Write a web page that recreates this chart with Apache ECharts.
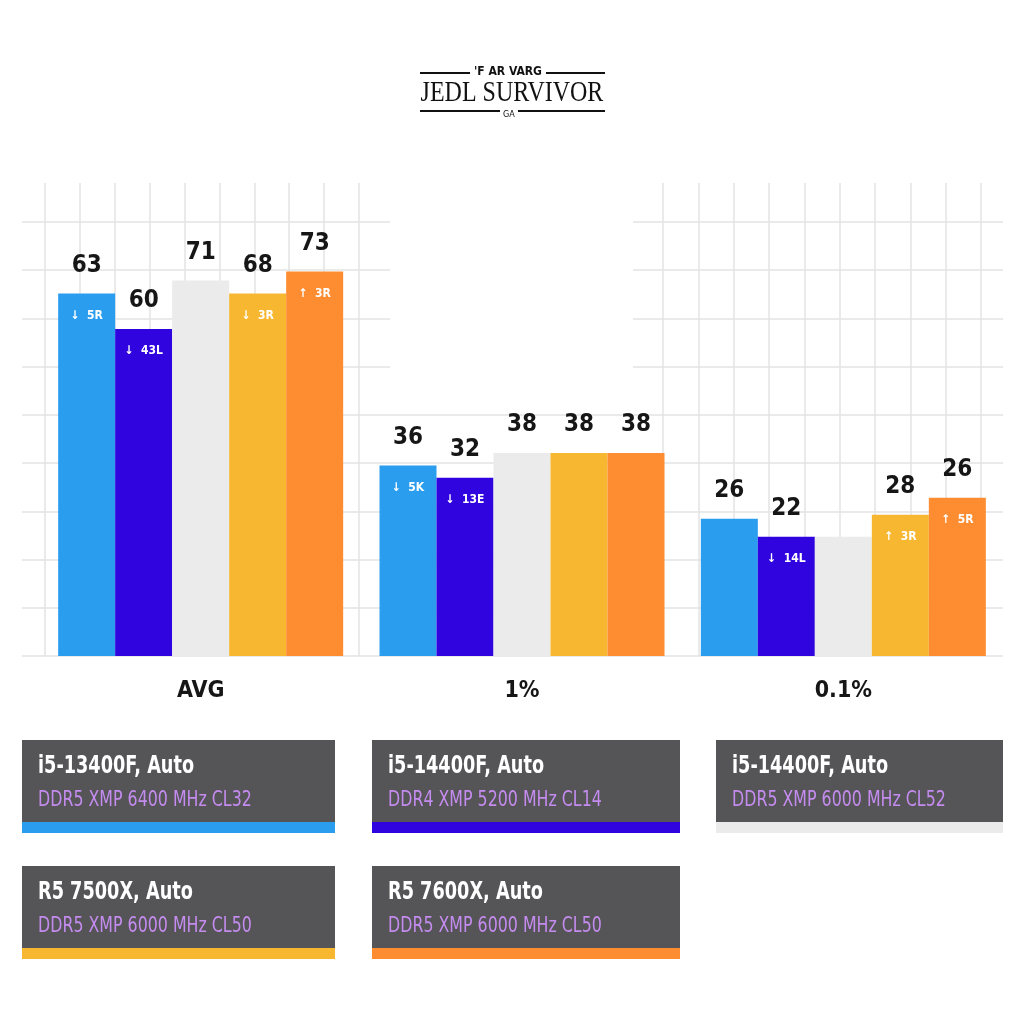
<!DOCTYPE html>
<html>
<head>
<meta charset="utf-8">
<script src="https://cdn.jsdelivr.net/npm/echarts@6/dist/echarts.min.js"></script>
<style>
  html, body { margin: 0; padding: 0; background: #fff; }
  #main { width: 1024px; height: 1024px; }
</style>
</head>
<body>
<div id="main"></div>
<script>
// 分类与数据
let categories = ['AVG', '1%', '0.1%'];

// bar heights
let valI5_13400 = [68.7, 36.1, 26.0];
let valI5_14400d4 = [62.0, 33.8, 22.6];
let valI5_14400d5 = [71.2, 38.5, 22.6];
let valR5_7500 = [68.7, 38.5, 26.8];
let valR5_7600 = [72.9, 38.5, 30.0];

// numbers printed above the bars
let topI5_13400 = ['63', '36', '26'];
let topI5_14400d4 = ['60', '32', '22'];
let topI5_14400d5 = ['71', '38', ''];
let topR5_7500 = ['68', '38', '28'];
let topR5_7600 = ['73', '38', '26'];

// small notes inside the bars
let noteI5_13400 = ['↓  5R', '↓  5K', ''];
let noteI5_14400d4 = ['↓  43L', '↓  13E', '↓  14L'];
let noteI5_14400d5 = ['', '', ''];
let noteR5_7500 = ['↓  3R', '', '↑  3R'];
let noteR5_7600 = ['↑  3R', '', '↑  5R'];

let cpuNames = ['i5-13400F, Auto', 'i5-14400F, Auto', 'i5-14400F, Auto', 'R5 7500X, Auto', 'R5 7600X, Auto'];
let memNames = ['DDR5 XMP 6400 MHz CL32', 'DDR4 XMP 5200 MHz CL14', 'DDR5 XMP 6000 MHz CL52', 'DDR5 XMP 6000 MHz CL50', 'DDR5 XMP 6000 MHz CL50'];
let colors = ['#2b9def', '#3004df', '#ebebeb', '#f7b731', '#fe8c31'];

let values = [valI5_13400, valI5_14400d4, valI5_14400d5, valR5_7500, valR5_7600];
let tops = [topI5_13400, topI5_14400d4, topI5_14400d5, topR5_7500, topR5_7600];
let notes = [noteI5_13400, noteI5_14400d4, noteI5_14400d5, noteR5_7500, noteR5_7600];

let condensed = "'Liberation Sans Narrow', 'DejaVu Sans Condensed', 'Roboto Condensed', 'Noto Sans', sans-serif";
let gridLine = { show: true, lineStyle: { color: '#e3e3e3', width: 1.5 } };

let myChart = echarts.init(document.getElementById('main'));

let series = [];
for (let i = 0; i < 5; i++) {
    // 柱子 + 顶部数字
    series.push({
        type: 'bar',
        name: cpuNames[i],
        xAxisIndex: 3,
        yAxisIndex: 3,
        data: values[i],
        barWidth: 57,
        barGap: '0%',
        itemStyle: { color: colors[i] },
        label: {
            show: true,
            position: 'top',
            distance: 16,
            formatter: function (p) { return tops[i][p.dataIndex]; },
            color: '#161616',
            fontSize: 24,
            fontWeight: 'bold',
            fontFamily: condensed
        },
        z: 3
    });
}
for (let i = 0; i < 5; i++) {
    // 柱内小标注
    series.push({
        type: 'bar',
        xAxisIndex: 4,
        yAxisIndex: 3,
        data: values[i],
        barWidth: 57,
        barGap: '0%',
        itemStyle: { color: 'rgba(0,0,0,0)' },
        label: {
            show: true,
            position: 'insideTop',
            distance: 16,
            formatter: function (p) { return notes[i][p.dataIndex]; },
            color: '#ffffff',
            fontSize: 12,
            fontWeight: 'bold',
            fontFamily: condensed
        },
        silent: true,
        z: 4
    });
}

// 图例方块
let boxLeft = [22, 372, 716, 22, 372];
let boxWidth = [313, 308, 287, 313, 308];
let boxTop = [740, 740, 740, 866, 866];
let graphics = [];
for (let i = 0; i < 5; i++) {
    graphics.push({
        type: 'rect',
        left: boxLeft[i], top: boxTop[i],
        shape: { width: boxWidth[i], height: 82 },
        style: { fill: '#555457' }
    });
    graphics.push({
        type: 'rect',
        left: boxLeft[i], top: boxTop[i] + 82,
        shape: { width: boxWidth[i], height: 11 },
        style: { fill: colors[i] }
    });
    graphics.push({
        type: 'text',
        x: boxLeft[i] + 16, y: boxTop[i] + 27,
        scaleX: 0.82,
        style: { text: cpuNames[i], fill: '#ffffff', font: 'bold 24px ' + condensed, textAlign: 'left', textVerticalAlign: 'middle' }
    });
    graphics.push({
        type: 'text',
        x: boxLeft[i] + 16, y: boxTop[i] + 60,
        scaleX: 0.8,
        style: { text: memNames[i], fill: '#c58cf0', font: '22px ' + condensed, textAlign: 'left', textVerticalAlign: 'middle' }
    });
}

// 标题 logo
graphics.push(
    { type: 'line', shape: { x1: 420, y1: 73, x2: 470, y2: 73 }, style: { stroke: '#111', lineWidth: 2 } },
    { type: 'line', shape: { x1: 546, y1: 73, x2: 605, y2: 73 }, style: { stroke: '#111', lineWidth: 2 } },
    { type: 'text', x: 508, y: 72, style: { text: "'F AR VARG", fill: '#111', font: 'bold 12px ' + condensed, textAlign: 'center', textVerticalAlign: 'middle' } },
    { type: 'text', x: 512, y: 93, scaleX: 0.8, style: { text: 'JEDL SURVIVOR', fill: '#111', font: "30px 'Liberation Serif', 'DejaVu Serif', serif", textAlign: 'center', textVerticalAlign: 'middle' } },
    { type: 'line', shape: { x1: 420, y1: 111, x2: 500, y2: 111 }, style: { stroke: '#111', lineWidth: 2 } },
    { type: 'line', shape: { x1: 518, y1: 111, x2: 605, y2: 111 }, style: { stroke: '#111', lineWidth: 2 } },
    { type: 'text', x: 509, y: 115, style: { text: 'GA', fill: '#111', font: '9px ' + condensed, textAlign: 'center', textVerticalAlign: 'middle' } },
    // 中间空白区域
    { type: 'rect', left: 390, top: 180, shape: { width: 243, height: 221 }, style: { fill: '#ffffff' }, z: 1 }
);

let option = {
    backgroundColor: '#ffffff',
    animation: false,
    grid: [
        { left: 22, right: 21, top: 222, bottom: 368 },
        { left: 45, right: 665, top: 183, bottom: 368 },
        { left: 663, right: 43, top: 183, bottom: 368 },
        { left: 40, right: 20, top: 234, bottom: 368 }
    ],
    xAxis: [
        { gridIndex: 0, type: 'value', min: 0, max: 1, show: false },
        {
            gridIndex: 1, type: 'value', min: 0, max: 9, interval: 1,
            axisLabel: { show: false }, axisLine: { show: false }, axisTick: { show: false },
            splitLine: gridLine
        },
        {
            gridIndex: 2, type: 'value', min: 0, max: 9, interval: 1,
            axisLabel: { show: false }, axisLine: { show: false }, axisTick: { show: false },
            splitLine: gridLine
        },
        {
            gridIndex: 3, type: 'category', data: categories,
            axisLine: { show: false }, axisTick: { show: false },
            axisLabel: {
                margin: 24, color: '#161616', fontSize: 23, fontWeight: 'bold', fontFamily: condensed
            }
        },
        { gridIndex: 3, type: 'category', data: categories, show: false }
    ],
    yAxis: [
        {
            gridIndex: 0, type: 'value', min: 0, max: 9, interval: 1,
            axisLabel: { show: false }, axisLine: { show: false }, axisTick: { show: false },
            splitLine: gridLine
        },
        { gridIndex: 1, type: 'value', min: 0, max: 1, show: false },
        { gridIndex: 2, type: 'value', min: 0, max: 1, show: false },
        { gridIndex: 3, type: 'value', min: 0, max: 80, show: false }
    ],
    graphic: graphics,
    series: series
};

myChart.setOption(option);
</script>
</body>
</html>
